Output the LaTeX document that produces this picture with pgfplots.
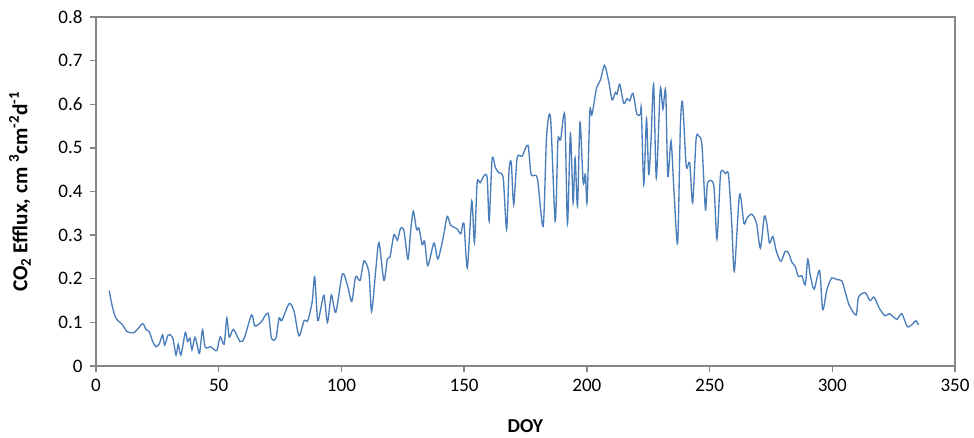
\documentclass[border=0pt]{standalone}
\usepackage{fontspec}
\setmainfont{Carlito}
\usepackage{pgfplots}
\pgfplotsset{compat=1.18}
\definecolor{lineblue}{RGB}{74,126,187}
\definecolor{axgray}{RGB}{134,134,134}
\begin{document}
\begin{tikzpicture}
\useasboundingbox (-72pt,-54pt) rectangle (658.5pt,274.5pt);
\begin{axis}[
  scale only axis,
  width=644.25pt, height=261.75pt,
  xmin=0, xmax=350, ymin=0, ymax=0.8,
  xtick={0,50,...,350},
  ytick={0,0.1,0.2,0.3,0.4,0.5,0.6,0.7,0.8},
  yticklabels={0,0.1,0.2,0.3,0.4,0.5,0.6,0.7,0.8},
  /pgf/number format/assume math mode=true,
  tick align=outside, tick pos=left,
  major tick length=4.5pt,
  axis line style={axgray, line width=1.1pt},
  every tick/.style={axgray, line width=1.1pt},
  tick label style={font=\fontsize{14.3}{17}\selectfont, black},
  xticklabel style={yshift=-2pt},
  yticklabel style={xshift=-2pt},
  xlabel={\textbf{DOY}},
  ylabel={\textbf{CO\textsubscript{2} Efflux, cm \textsuperscript{3}cm\textsuperscript{-2}d\textsuperscript{-1}}},
  every axis x label/.style={at={(axis description cs:0.5,-0.172)}, anchor=center, font=\fontsize{14.8}{17}\selectfont},
  every axis y label/.style={at={(axis description cs:-0.0885,0.5)}, anchor=center, rotate=90, font=\fontsize{16}{18}\selectfont},
]
\addplot[lineblue, line width=1.0pt, smooth, tension=0.45] coordinates {
(5.4,0.173) (6.5,0.14) (8.1,0.110) (10.9,0.094) (12.6,0.079) (15.6,0.077) (19,0.097)
(20.3,0.084) (21.7,0.079) (23.1,0.056) (24.4,0.044) (25.8,0.051) (27.1,0.071) (28,0.048)
(29.4,0.071) (31.2,0.066) (32.6,0.025) (33.5,0.050) (34.6,0.025) (36.4,0.077) (37.3,0.056)
(38.3,0.064) (39.1,0.037) (40.3,0.066) (41.4,0.044) (42.2,0.029) (43.4,0.083) (44.5,0.043)
(46.8,0.044) (49.2,0.035) (50.6,0.067) (52.2,0.050) (53.3,0.110) (54.3,0.066) (56,0.084)
(58.7,0.056) (60.4,0.064) (63.4,0.117) (64.7,0.092) (67.2,0.100) (70.1,0.121) (71.5,0.064)
(73.3,0.064) (74.6,0.110) (75.7,0.104) (78.7,0.143) (80.7,0.125) (82.7,0.069) (84.8,0.104)
(86.3,0.104) (88.1,0.148) (89.1,0.205) (90.3,0.105) (91.6,0.132) (92.9,0.162) (94.3,0.100)
(95.9,0.163) (97.7,0.123) (100.4,0.211) (102.4,0.186) (104.2,0.148) (105.8,0.205) (107.6,0.196)
(109.2,0.241) (111.2,0.214) (112.3,0.125) (114,0.221) (115.3,0.283) (117.3,0.196) (118.7,0.245)
(119.8,0.250) (121.4,0.301) (122.8,0.288) (124.1,0.316) (125.5,0.309) (127.1,0.245) (128.2,0.309)
(129.3,0.355) (130.6,0.313) (131.6,0.316) (132.9,0.278) (133.9,0.286) (135.2,0.230) (137.7,0.282)
(139.3,0.245) (141.5,0.296) (143.1,0.343) (144.5,0.323) (147.2,0.314) (148.6,0.303) (149.9,0.327)
(151.3,0.225) (153.1,0.378) (154.2,0.283) (155.3,0.420) (156.5,0.420) (158.2,0.437) (159.4,0.431)
(160.2,0.332) (161.4,0.475) (162.8,0.454) (164.1,0.443) (165.9,0.431) (167.3,0.313) (168.3,0.449)
(169.2,0.466) (170.2,0.370) (171.6,0.477) (173.6,0.481) (176,0.506) (177.3,0.439) (179.8,0.431)
(182.2,0.320) (183.6,0.529) (185.2,0.569) (187.1,0.332) (188.2,0.516) (189.3,0.518) (191,0.575)
(192.1,0.326) (193.3,0.533) (194.4,0.374) (195.2,0.477) (196.2,0.366) (197.2,0.559) (198.5,0.420)
(199.4,0.440) (200.1,0.376) (201.2,0.582) (202.1,0.576) (203.9,0.636) (205.5,0.655) (207.2,0.689)
(208.9,0.652) (210.3,0.610) (211.6,0.627) (212.3,0.623) (213.4,0.646) (215,0.602) (216.4,0.613)
(217.5,0.608) (218.8,0.625) (220.4,0.577) (221.8,0.577) (222.2,0.587) (223.2,0.416) (224.3,0.567)
(225.2,0.439) (226.1,0.512) (227.2,0.646) (228.3,0.431) (229.9,0.634) (231,0.589) (232.1,0.631)
(233,0.435) (234.3,0.516) (235.5,0.400) (237,0.282) (238.1,0.550) (239,0.604) (240.5,0.458)
(241.9,0.466) (243.1,0.374) (244.5,0.520) (245.6,0.527) (246.9,0.506) (248.3,0.359) (249.2,0.420)
(251.7,0.414) (253,0.291) (254.4,0.435) (255.4,0.448) (256.4,0.441) (257.7,0.439) (259,0.330)
(260.1,0.217) (262.2,0.393) (264,0.327) (265.2,0.339) (267.2,0.348) (269.1,0.328) (270.7,0.270)
(272.3,0.343) (273.4,0.324) (274.4,0.282) (275.8,0.297) (277.2,0.263) (279.1,0.240) (280.8,0.263)
(282.2,0.259) (283.5,0.238) (284.9,0.228) (286.2,0.205) (287.6,0.207) (289,0.186) (290,0.245)
(291,0.209) (292.6,0.176) (294.8,0.219) (296.1,0.129) (297.8,0.175) (299.8,0.202) (301.8,0.198)
(303.9,0.195) (305.6,0.163) (307,0.138) (309.7,0.117) (310.7,0.158) (313.4,0.168) (315.4,0.150)
(317,0.158) (319.2,0.132) (321.5,0.115) (323.3,0.120) (326.3,0.107) (328.3,0.120) (330.6,0.090)
(332.8,0.097) (334.1,0.104) (335.1,0.094)
};
\end{axis}
\end{tikzpicture}
\end{document}
